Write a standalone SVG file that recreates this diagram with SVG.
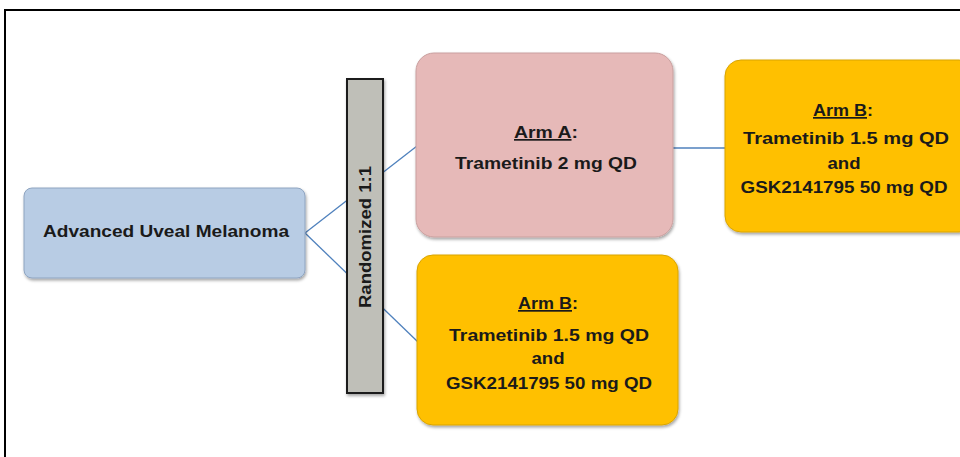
<svg xmlns="http://www.w3.org/2000/svg" width="960" height="457" viewBox="0 0 960 457">
<style>
.t{font-family:"Liberation Sans",Arial,sans-serif;font-weight:bold;font-size:17px;fill:#1a1a1a;text-anchor:middle}
.u{text-decoration:underline}
.conn{stroke:#4f81bd;stroke-width:1.3;fill:none}
</style>
<defs>
<filter id="sh" x="-10%" y="-10%" width="130%" height="130%">
<feDropShadow dx="1" dy="2" stdDeviation="1.5" flood-color="#000" flood-opacity="0.35"/>
</filter>
</defs>
<rect x="0" y="0" width="960" height="457" fill="#fff"/>
<rect x="5" y="10" width="960" height="460" fill="none" stroke="#000" stroke-width="2"/>
<g id="connectors">
<line class="conn" x1="305" y1="233" x2="417" y2="146"/>
<line class="conn" x1="305" y1="233" x2="418" y2="342"/>
<line class="conn" x1="673" y1="148" x2="725" y2="148"/>
</g>
<g id="melanoma">
<rect x="24" y="188" width="281" height="90" rx="8" fill="#b8cce4" stroke="#8ea4c0" filter="url(#sh)"/>
<text class="t" x="166" y="237" textLength="246" lengthAdjust="spacingAndGlyphs">Advanced Uveal Melanoma</text>
</g>
<g id="randomized">
<rect x="347" y="79" width="36" height="314" fill="#bfbfb8" stroke="#1a1a1a" stroke-width="2" filter="url(#sh)"/>
<text class="t" transform="translate(371 237) rotate(-90)" textLength="142" lengthAdjust="spacingAndGlyphs">Randomized 1:1</text>
</g>
<g id="armA">
<rect x="416" y="53" width="257" height="184" rx="18" fill="#e6b9b8" stroke="#c9a09f" filter="url(#sh)"/>
<text class="t" x="546" y="138" textLength="64" lengthAdjust="spacingAndGlyphs"><tspan class="u">Arm A</tspan>:</text>
<text class="t" x="546" y="169" textLength="182" lengthAdjust="spacingAndGlyphs">Trametinib 2 mg QD</text>
</g>
<g id="armB-right">
<rect x="725" y="60" width="250" height="172" rx="16" fill="#ffc000" stroke="#d9a400" filter="url(#sh)"/>
<text class="t" x="843" y="116" textLength="60" lengthAdjust="spacingAndGlyphs"><tspan class="u">Arm B</tspan>:</text>
<text class="t" x="846" y="144" textLength="206" lengthAdjust="spacingAndGlyphs">Trametinib 1.5 mg QD</text>
<text class="t" x="844" y="169" textLength="33" lengthAdjust="spacingAndGlyphs">and</text>
<text class="t" x="844" y="193" textLength="207" lengthAdjust="spacingAndGlyphs">GSK2141795 50 mg QD</text>
</g>
<g id="armB-bottom">
<rect x="417" y="255" width="261" height="170" rx="16" fill="#ffc000" stroke="#d9a400" filter="url(#sh)"/>
<text class="t" x="548" y="309" textLength="60" lengthAdjust="spacingAndGlyphs"><tspan class="u">Arm B</tspan>:</text>
<text class="t" x="549" y="341" textLength="200" lengthAdjust="spacingAndGlyphs">Trametinib 1.5 mg QD</text>
<text class="t" x="548" y="364" textLength="33" lengthAdjust="spacingAndGlyphs">and</text>
<text class="t" x="549" y="389" textLength="206" lengthAdjust="spacingAndGlyphs">GSK2141795 50 mg QD</text>
</g>
</svg>
